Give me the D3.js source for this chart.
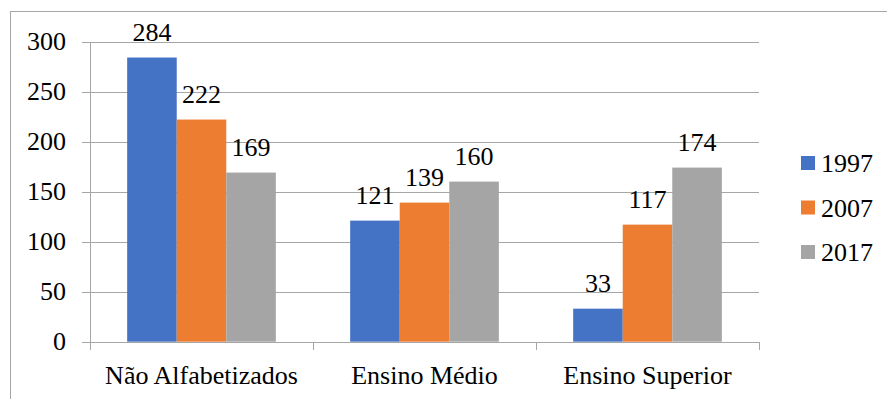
<!DOCTYPE html>
<meta charset="utf-8">
<style>
body { margin: 0; background: #fff; font-family: "Liberation Serif", serif; }
.grid line { stroke: #a6a6a6; stroke-width: 1; shape-rendering: crispEdges; }
</style>
<body>
<svg width="887" height="399"></svg>
<script src="https://d3js.org/d3.v7.min.js"></script>
<script>

var categories = ["Não Alfabetizados", "Ensino Médio", "Ensino Superior"];
var years = ["1997", "2007", "2017"];
var v1997 = [284, 121, 33];
var v2007 = [222, 139, 117];
var v2017 = [169, 160, 174];
var yTicks = [0, 50, 100, 150, 200, 250, 300];
var colors = ["#4472c4", "#ed7d31", "#a5a5a5"];

var series = [v1997, v2007, v2017];
var FONT = "Liberation Serif, serif";
var FSIZE = 26;

var svg = d3.select("svg");

// outer frame (only top and left visible)
svg.append("line").attr("x1", 10).attr("y1", 11.5).attr("x2", 887).attr("y2", 11.5)
	.style("stroke", "#a6a6a6").style("shape-rendering", "crispEdges");
svg.append("line").attr("x1", 10.5).attr("y1", 11).attr("x2", 10.5).attr("y2", 399)
	.style("stroke", "#a6a6a6").style("shape-rendering", "crispEdges");

var plotLeft = 90, plotRight = 759, plotTop = 41.5, plotBottom = 341.7;

var x = d3.scaleBand()
	.domain(categories)
	.range([plotLeft, plotRight])
	.paddingInner(0)
	.paddingOuter(0);

var y = d3.scaleLinear()
	.domain([0, 300])
	.range([plotBottom, plotTop]);

// horizontal gridlines + tick marks
var grid = svg.append("g").attr("class", "grid");
grid.selectAll(".hline")
	.data(yTicks)
	.enter().append("line")
	.attr("x1", plotLeft - 8)
	.attr("x2", plotRight)
	.attr("y1", function(d){ return Math.round(y(d)) + 0.5; })
	.attr("y2", function(d){ return Math.round(y(d)) + 0.5; });

// category divider ticks
grid.selectAll(".vtick")
	.data(d3.range(categories.length + 1))
	.enter().append("line")
	.attr("x1", function(i){ return Math.round(plotLeft + i * x.bandwidth()) + 0.5; })
	.attr("x2", function(i){ return Math.round(plotLeft + i * x.bandwidth()) + 0.5; })
	.attr("y1", plotBottom)
	.attr("y2", plotBottom + 8);

// y axis line
grid.append("line")
	.attr("x1", plotLeft + 0.5).attr("x2", plotLeft + 0.5)
	.attr("y1", plotTop).attr("y2", plotBottom + 8);

// y labels
svg.selectAll(".ylab")
	.data(yTicks)
	.enter().append("text")
	.attr("x", 66)
	.attr("y", function(d){ return y(d) + 8; })
	.attr("text-anchor", "end")
	.attr("font-family", FONT)
	.attr("font-size", FSIZE)
	.text(function(d){ return d; });

// bars
var bw = x.bandwidth() * 2 / 9;
var inner = d3.scaleBand()
	.domain(years)
	.range([0, bw * 3]);

series.forEach(function(vals, s){
	var g = svg.append("g");
	g.selectAll("rect")
		.data(vals)
		.enter().append("rect")
		.attr("x", function(d, i){ return x(categories[i]) + (x.bandwidth() - bw * 3) / 2 + inner(years[s]); })
		.attr("width", inner.bandwidth())
		.attr("y", function(d){ return y(d); })
		.attr("height", function(d){ return plotBottom - y(d); })
		.attr("fill", colors[s]);
	g.selectAll("text")
		.data(vals)
		.enter().append("text")
		.attr("x", function(d, i){ return x(categories[i]) + (x.bandwidth() - bw * 3) / 2 + inner(years[s]) + inner.bandwidth() / 2; })
		.attr("y", function(d){ return y(d) - 17; })
		.attr("text-anchor", "middle")
		.attr("font-family", FONT)
		.attr("font-size", FSIZE)
		.text(function(d){ return d; });
});

// category labels
svg.selectAll(".xlab")
	.data(categories)
	.enter().append("text")
	.attr("x", function(d){ return x(d) + x.bandwidth() / 2; })
	.attr("y", 384)
	.attr("text-anchor", "middle")
	.attr("font-family", FONT)
	.attr("font-size", FSIZE)
	.text(function(d){ return d; });

// legend
var legend = svg.selectAll(".leg")
	.data(years)
	.enter().append("g")
	.attr("transform", function(d, i){ return "translate(801," + (163 + i * 44.5) + ")"; });
legend.append("rect")
	.attr("x", 0).attr("y", -7)
	.attr("width", 14).attr("height", 14)
	.attr("fill", function(d, i){ return colors[i]; });
legend.append("text")
	.attr("x", 20).attr("y", 9)
	.attr("font-family", FONT)
	.attr("font-size", FSIZE)
	.text(function(d){ return d; });

</script>
</body>
